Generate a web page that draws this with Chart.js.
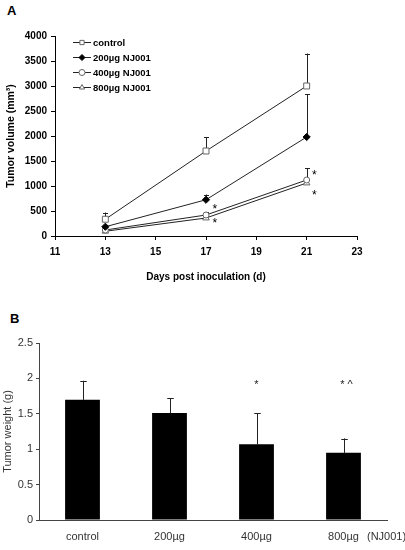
<!DOCTYPE html>
<html>
<head>
<meta charset="utf-8">
<script src="https://cdn.jsdelivr.net/npm/chart.js@4.4.0/dist/chart.umd.min.js"></script>
<style>
  body { margin: 0; background: #fff; }
  .panel { position: absolute; left: 0; }
  .tag { position: absolute; font: bold 13px "Liberation Sans", Arial, sans-serif; color: #000; }
</style>
</head>
<body>
<div class="tag" style="left:7px; top:3px;">A</div>
<div class="panel" style="top:0;"><canvas id="volumeChart" width="405" height="290"></canvas></div>
<div class="tag" style="left:10px; top:311px;">B</div>
<div class="panel" style="top:290px;"><canvas id="weightChart" width="405" height="260"></canvas></div>
<script>
// panel A - tumor volume (mm3) by day
const days = [13, 17, 21];
const groupNames = ['control', '200µg NJ001', '400µg NJ001', '800µg NJ001'];
const controlVol = [335, 1700, 3000];
const nj200Vol = [185, 725, 1980];
const nj400Vol = [120, 420, 1120];
const nj800Vol = [95, 360, 1060];
// top of the error bar (value + SD)
const controlErr = [470, 1980, 3650];
const nj200Err = [185, 830, 2840];
const nj400Err = [120, 480, 1360];
const nj800Err = [95, 360, 1060];
// significance marks on panel A
const sigDay = [17.35, 17.35, 21.3, 21.3];
const sigVol = [590, 320, 1270, 880];

// panel B - tumor weight (g)
const doseLabels = ['control', '200µg', '400µg', '800µg'];
const weights = [1.70, 1.51, 1.07, 0.95];
const weightErr = [1.965, 1.72, 1.505, 1.15];
const weightSig = ['', '', '*', '* ^'];
const weightSigLevel = 1.95;

const FONT = '"Liberation Sans", Arial, sans-serif';
Chart.defaults.font.family = FONT;
Chart.defaults.devicePixelRatio = 1;

function pts(vals) {
    return days.map((d, i) => ({ x: d, y: vals[i] }));
}

// plain numbers, no thousands separator
function plain(value) {
    return String(Math.round(value * 100) / 100);
}

// error bars drawn from dataset.errTop (upper side only)
const errorBars = {
    id: 'errorBars',
    beforeDatasetsDraw(chart) {
        const ctx = chart.ctx;
        const yScale = chart.scales.y;
        ctx.save();
        ctx.strokeStyle = '#222';
        ctx.lineWidth = 1;
        chart.data.datasets.forEach((ds, di) => {
            if (!ds.errTop) return;
            const meta = chart.getDatasetMeta(di);
            meta.data.forEach((el, i) => {
                const x = Math.round(el.x) + 0.5;
                const y0 = el.y;
                const y1 = yScale.getPixelForValue(ds.errTop[i]);
                if (y0 - y1 < 1) return;
                const cap = ds.capWidth || 3;
                ctx.beginPath();
                ctx.moveTo(x, y0);
                ctx.lineTo(x, y1);
                ctx.moveTo(x - cap, Math.round(y1) + 0.5);
                ctx.lineTo(x + cap, Math.round(y1) + 0.5);
                ctx.stroke();
            });
        });
        ctx.restore();
    },
    afterDatasetsDraw(chart) {
        if (chart.config.type !== 'bar') return;
        // bars cover the lower part, redraw error stems above the bars
        errorBars.beforeDatasetsDraw(chart);
    }
};

const volumeLegend = {
    id: 'volumeLegend',
    afterDraw(chart) {
        const ctx = chart.ctx;
        ctx.save();
        ctx.font = 'bold 9.5px ' + FONT;
        ctx.textBaseline = 'middle';
        chart.data.datasets.forEach((ds, i) => {
            const y = 42.5 + i * 15;
            ctx.strokeStyle = ds.borderColor;
            ctx.lineWidth = 1;
            ctx.beginPath();
            ctx.moveTo(73, y);
            ctx.lineTo(91, y);
            ctx.stroke();
            ctx.fillStyle = ds.pointBackgroundColor;
            ctx.strokeStyle = ds.pointBorderColor;
            Chart.helpers.drawPoint(ctx, { pointStyle: ds.pointStyle, radius: 3, rotation: 0, borderWidth: 1 }, 82, y);
            ctx.fillStyle = '#000';
            ctx.fillText(ds.label, 93, y + 0.5);
        });
        ctx.restore();
    }
};

const volumeSig = {
    id: 'volumeSig',
    afterDraw(chart) {
        const ctx = chart.ctx;
        ctx.save();
        ctx.font = '12px ' + FONT;
        ctx.fillStyle = '#000';
        ctx.textAlign = 'center';
        ctx.textBaseline = 'alphabetic';
        sigDay.forEach((d, i) => {
            const x = chart.scales.x.getPixelForValue(d);
            const y = chart.scales.y.getPixelForValue(sigVol[i]);
            ctx.fillText('*', x, y + 6.5);
        });
        ctx.restore();
    }
};

function series(label, vals, errs, style, fill, r) {
    return {
        label: label,
        data: pts(vals),
        errTop: errs,
        capWidth: 2.5,
        borderColor: '#222',
        borderWidth: 1,
        pointStyle: style,
        pointRadius: r,
        pointBackgroundColor: fill,
        pointBorderColor: fill === '#000' ? '#000' : '#666',
        pointBorderWidth: 1,
        tension: 0
    };
}

new Chart(document.getElementById('volumeChart').getContext('2d'), {
    type: 'line',
    data: {
        datasets: [
            series(groupNames[0], controlVol, controlErr, 'rect', '#fff', 4.2),
            series(groupNames[1], nj200Vol, nj200Err, 'rectRot', '#000', 3.6),
            series(groupNames[2], nj400Vol, nj400Err, 'circle', '#fff', 3),
            series(groupNames[3], nj800Vol, nj800Err, 'triangle', '#fff', 3.8)
        ]
    },
    options: {
        responsive: false,
        animation: false,
        layout: { padding: { left: 0, top: 36, right: 48, bottom: 0 } },
        plugins: { legend: { display: false }, tooltip: { enabled: false } },
        scales: {
            x: {
                type: 'linear',
                min: 11,
                max: 23,
                afterFit: (s) => { s.height = 54; },
                ticks: { stepSize: 2, color: '#000', font: { size: 10, weight: 'bold' }, padding: 6, callback: plain },
                grid: { display: true, drawOnChartArea: false, tickLength: 4, color: '#000' },
                border: { display: true, color: '#000', width: 1 },
                title: {
                    display: true,
                    text: 'Days post inoculation (d)',
                    color: '#000',
                    font: { size: 10, weight: 'bold' },
                    padding: { top: 0, bottom: 7 }
                }
            },
            y: {
                min: 0,
                max: 4000,
                afterFit: (s) => { s.width = 55; },
                ticks: { stepSize: 500, color: '#000', font: { size: 10, weight: 'bold' }, padding: 4, callback: plain },
                grid: { display: true, drawOnChartArea: false, tickLength: 4, color: '#000' },
                border: { display: true, color: '#000', width: 1 },
                title: {
                    display: true,
                    text: 'Tumor volume (mm³)',
                    color: '#000',
                    font: { size: 10.5, weight: 'bold' },
                    padding: { top: 5, bottom: 0 }
                }
            }
        }
    },
    plugins: [errorBars, volumeLegend, volumeSig]
});

const weightSigPlugin = {
    id: 'weightSig',
    afterDraw(chart) {
        const ctx = chart.ctx;
        const xs = chart.scales.x;
        ctx.save();
        ctx.fillStyle = '#222';
        ctx.font = '11px ' + FONT;
        ctx.textAlign = 'center';
        ctx.textBaseline = 'alphabetic';
        weightSig.forEach((s, i) => {
            if (!s) return;
            const x = xs.getPixelForValue(i);
            const y = chart.scales.y.getPixelForValue(weightSigLevel);
            ctx.fillText(s, x + (s.length > 1 ? 3 : 0), y + 6);
        });
        // unit note after the last category
        ctx.fillStyle = '#333';
        ctx.textAlign = 'left';
        ctx.textBaseline = 'middle';
        ctx.fillText('(NJ001)', 367, xs.top + 16.5);
        ctx.restore();
    }
};

new Chart(document.getElementById('weightChart').getContext('2d'), {
    type: 'bar',
    data: {
        labels: doseLabels,
        datasets: [{
            label: 'Tumor weight',
            data: weights,
            errTop: weightErr,
            capWidth: 3,
            backgroundColor: '#000',
            borderWidth: 0,
            barPercentage: 0.8,
            categoryPercentage: 0.5
        }]
    },
    options: {
        responsive: false,
        animation: false,
        layout: { padding: { left: 0, top: 53, right: 18, bottom: 0 } },
        plugins: { legend: { display: false }, tooltip: { enabled: false } },
        scales: {
            x: {
                afterFit: (s) => { s.height = 30; },
                ticks: { color: '#333', font: { size: 11 }, padding: 10 },
                grid: { display: false, drawTicks: false },
                border: { display: true, color: '#444', width: 1 }
            },
            y: {
                min: 0,
                max: 2.5,
                afterFit: (s) => { s.width = 39; },
                ticks: { stepSize: 0.5, color: '#333', font: { size: 11 }, padding: 3, callback: plain },
                grid: { display: true, drawOnChartArea: false, tickLength: 3, color: '#444' },
                border: { display: true, color: '#444', width: 1 },
                title: {
                    display: true,
                    text: 'Tumor weight (g)',
                    color: '#333',
                    font: { size: 11 },
                    padding: { top: 1, bottom: 0 }
                }
            }
        }
    },
    plugins: [errorBars, weightSigPlugin]
});
</script>
</body>
</html>
